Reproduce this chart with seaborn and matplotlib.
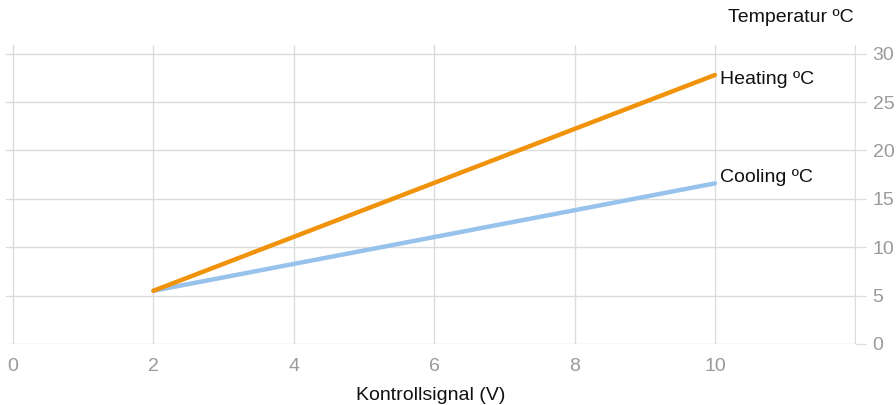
"""
Kontrollsignal vs. Temperatur line chart (heating / cooling curves).
"""

import pandas as pd
import matplotlib.pyplot as plt
import seaborn as sns

# Data
signal_v = [2, 10]
heating_c = [5.5, 27.8]
cooling_c = [5.5, 16.6]
series_names = ["Heating ºC", "Cooling ºC"]
series_colors = ["#F0920A", "#97C2EB"]
x_ticks = [0, 2, 4, 6, 8, 10, 12]
x_tick_labels = ["0", "2", "4", "6", "8", "10", ""]
y_ticks = [0, 5, 10, 15, 20, 25, 30]

OUTPUT_FILEPATH = "out.png"
TICK_COLOR = "#9a9a9a"
GRID_COLOR = "#dcdcdc"
FONTSIZE = 14
# vertical nudge (points) of each end label
LABEL_NUDGE = [-3, 4]


def main():
    sns.set_style("white")
    plt.rcParams["font.family"] = ["Liberation Sans", "DejaVu Sans"]

    df = pd.concat(
        [
            pd.DataFrame({"signal": signal_v, "temp": heating_c, "series": series_names[0]}),
            pd.DataFrame({"signal": signal_v, "temp": cooling_c, "series": series_names[1]}),
        ],
        ignore_index=True,
    )

    fig = plt.figure(figsize=(8.96, 4.05), dpi=100)
    ax = fig.add_axes([6 / 896, 61 / 405, 850 / 896, 299 / 405])

    sns.lineplot(
        data=df,
        x="signal",
        y="temp",
        hue="series",
        hue_order=series_names[::-1],
        palette=dict(zip(series_names, series_colors)),
        linewidth=3.2,
        legend=False,
        ax=ax,
        zorder=3,
    )

    # End-of-line labels
    for name, values, nudge in zip(series_names, [heating_c, cooling_c], LABEL_NUDGE):
        ax.annotate(
            name,
            xy=(signal_v[-1], values[-1]),
            xytext=(4, nudge),
            textcoords="offset points",
            ha="left",
            va="center",
            fontsize=FONTSIZE,
            color="#111111",
        )

    ax.set_xlim(-0.1, 12.01)
    ax.set_ylim(0, 30.9)
    ax.set_xticks(x_ticks)
    ax.set_xticklabels(x_tick_labels)
    ax.set_yticks(y_ticks)
    ax.yaxis.tick_right()
    ax.tick_params(axis="both", length=7, width=1, color=GRID_COLOR,
                   labelcolor=TICK_COLOR, labelsize=FONTSIZE, pad=5)
    ax.tick_params(axis="x", pad=3)
    ax.grid(True, color=GRID_COLOR, linewidth=1)
    for spine in ax.spines.values():
        spine.set_visible(False)

    ax.set_xlabel("Kontrollsignal (V)", fontsize=FONTSIZE, color="#111111", labelpad=9)
    ax.set_ylabel(None)
    fig.text(791 / 896, 1 - 18 / 405, "Temperatur ºC", ha="center", va="center",
             fontsize=FONTSIZE, color="#111111")

    fig.savefig(OUTPUT_FILEPATH, dpi=100)


if __name__ == "__main__":
    main()
